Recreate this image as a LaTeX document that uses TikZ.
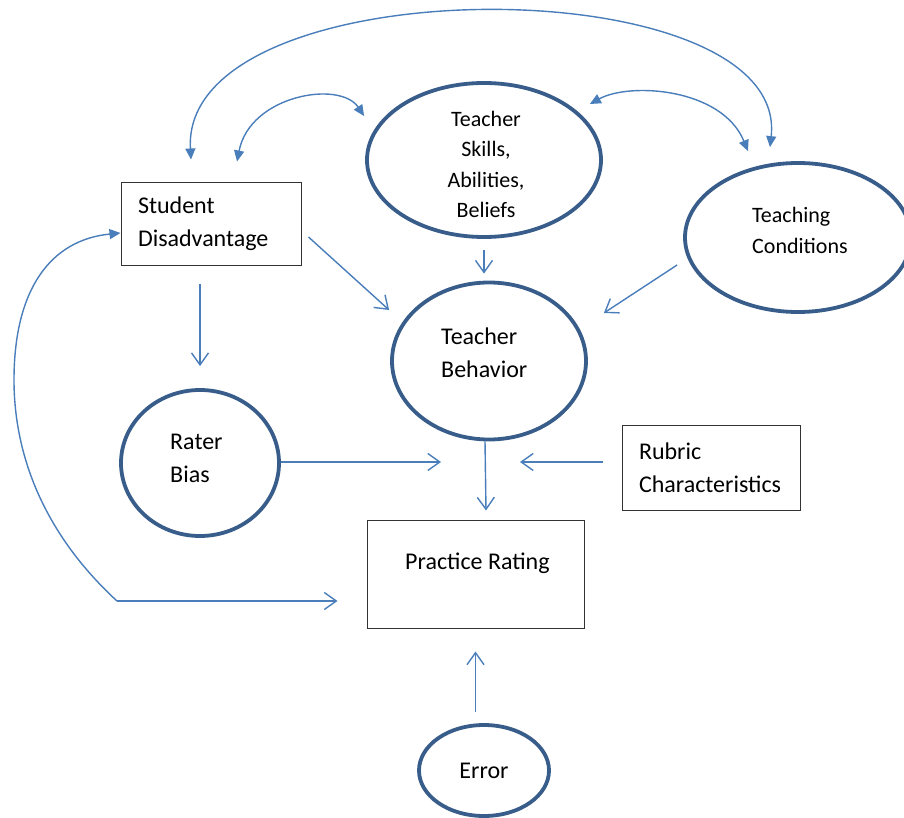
\documentclass[tikz,border=0pt]{standalone}
\usepackage{fontspec}
\setmainfont{Carlito}
\usetikzlibrary{shapes.geometric,arrows.meta,calc}
\definecolor{shapeblue}{HTML}{385D8A}
\definecolor{linkblue}{HTML}{4A7EBB}

\begin{document}
\begin{tikzpicture}[x=1pt,y=-1pt,
  every node/.style={inner sep=0pt},
  oval/.style={ellipse,draw=shapeblue,line width=3.8pt},
  box/.style={rectangle,draw=black!80,line width=1pt},
  txt/.style={font=\fontsize{24}{33}\selectfont,align=left},
  stxt/.style={font=\fontsize{22}{30.4}\selectfont,align=center},
  arr/.style={-{Straight Barb[length=12pt,width=17pt]},linkblue,line width=1.4pt},
  arrone/.style={-{Triangle[length=11pt,width=10pt]},linkblue,line width=1.4pt},
  arrboth/.style={{Triangle[length=11pt,width=10pt]}-{Triangle[length=11pt,width=10pt]},linkblue,line width=1.4pt},
]
\useasboundingbox (0,0) rectangle (904,818);
\clip (0,0) rectangle (904,818);

\node[box,txt,text width=146pt,inner xsep=17pt,minimum height=82pt] (stud) at (211,224) {Student\\Disadvantage};
\node[box,txt,text width=144pt,inner xsep=17pt,minimum height=85pt] (rubric) at (711,467.5) {Rubric\\Characteristics};
\node[box,minimum width=217pt,minimum height=108pt] (prac) at (475.5,574) {};
\node[txt,anchor=west] (pracT) at (405,563) {Practice Rating};

\node[oval,minimum width=234pt,minimum height=154pt] (skills) at (484,160) {};
\node[stxt] (skillsT) at (486,164.5) {Teacher\\Skills,\\Abilities,\\Beliefs};
\node[oval,minimum width=226pt,minimum height=149pt] (cond) at (798,237.5) {};
\node[stxt,align=left,anchor=west] (condT) at (752,230.5) {Teaching\\Conditions};
\node[oval,minimum width=194pt,minimum height=157pt] (behav) at (489,361) {};
\node[txt,anchor=west] (behavT) at (441,352.5) {Teacher\\Behavior};
\node[oval,minimum width=158pt,minimum height=146pt] (rater) at (200,463) {};
\node[txt,anchor=west] (raterT) at (170,458.5) {Rater\\Bias};
\node[oval,minimum width=130pt,minimum height=91pt] (err) at (484,770.5) {};
\node[txt] (errT) at (484,771) {Error};

\coordinate (inL) at (441,462);
\coordinate (inR) at (520,462);
\coordinate (jn) at (117,601);

\draw[arrboth] ($(stud.north)+(-20,-23)$) .. controls (180,-35) and (790,-35) .. ($(cond.north)+(-28,-14)$);
\draw[arrboth] ($(stud.north)+(26,-21)$) .. controls (250,95) and (340,80) .. ($(skills.west)+(-1,-44)$);
\draw[arrboth] ($(skills.east)+(-13,-56)$) .. controls (630,82) and (722,88) .. ($(cond.north)+(-50,-10)$);
\draw[arrone] (jn) .. controls (40,530) and (14,450) .. (14,380) .. controls (14,290) and (50,240) .. ($(stud.west)+(0,9)$);
\draw[arr] (jn) -- ($(prac.west |- jn)+(-29,0)$);

\draw[arr] ($(stud.east)+(7,13)$) -- ($(behav.west)+(-1,-51)$);
\draw[arr,shorten <=11pt,shorten >=7pt] (skills.south) -- (skills.south |- behav.north);
\draw[arr] ($(cond.west)+(-6,27.5)$) -- ($(behav.east)+(16,-48)$);
\draw[arr,shorten <=18pt,shorten >=22pt] (rater.north |- stud.south) -- (rater.north);
\draw[arr] (rater.east |- inL) -- (inL);
\draw[arr,shorten <=19pt] (rubric.west |- inR) -- (inR);
\draw[arr] ($(behav.south)+(-4,0)$) -- ($(prac.north)+(10.5,-9)$);
\draw[arr,shorten <=11pt,shorten >=23pt] (prac.south |- err.north) -- (prac.south);
\end{tikzpicture}
\end{document}
